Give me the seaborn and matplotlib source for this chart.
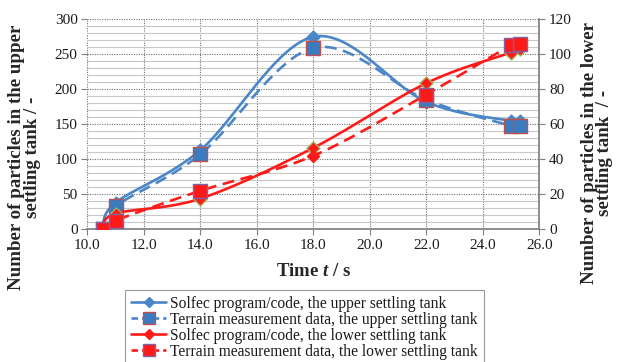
import numpy as np
import pandas as pd
import matplotlib
matplotlib.use("Agg")
import matplotlib.pyplot as plt
import seaborn as sns
from matplotlib.lines import Line2D
from matplotlib.ticker import MultipleLocator, FormatStrFormatter

# ---------------- data ----------------
time = [10.55, 11.0, 14.0, 18.0, 22.0, 25.0, 25.3]
upper_solfec = [0, 38, 113, 275, 182, 155, 155]
upper_meas = [0, 33, 107, 259, 185, 148, 148]
lower_solfec = [0, 9, 17.5, 46.5, 83.5, 101, 103]
lower_meas = [0, 5, 22, 42, 77, 105.3, 106]

labels = [
    "Solfec program/code, the upper settling tank",
    "Terrain measurement data, the upper settling tank",
    "Solfec program/code, the lower settling tank",
    "Terrain measurement data, the lower settling tank",
]

# ---------------- style ----------------
sns.set_theme(style="white")
plt.rcParams["font.family"] = "serif"
plt.rcParams["font.serif"] = ["Liberation Serif"]
plt.rcParams["mathtext.fontset"] = "custom"
plt.rcParams["mathtext.rm"] = "Liberation Serif:bold"
plt.rcParams["mathtext.it"] = "Liberation Serif:italic:bold"
plt.rcParams["mathtext.bf"] = "Liberation Serif:bold"

BLUE = "#4a86c8"
RED = "#ff1a1a"


def smooth(x, y, n=40):
    """Excel-like smoothed line (Catmull-Rom Bezier) for drawing."""
    pts = np.column_stack([x, y]).astype(float)
    out = []
    for i in range(len(pts) - 1):
        p0 = pts[i - 1] if i > 0 else pts[i]
        p1 = pts[i]
        p2 = pts[i + 1]
        p3 = pts[i + 2] if i + 2 < len(pts) else pts[i + 1]
        c1 = p1 + (p2 - p0) / 6.0
        c2 = p2 - (p3 - p1) / 6.0
        t = np.linspace(0, 1, n)[:, None]
        seg = ((1 - t) ** 3) * p1 + 3 * ((1 - t) ** 2) * t * c1 + 3 * (1 - t) * t ** 2 * c2 + t ** 3 * p2
        out.append(seg if i == 0 else seg[1:])
    arr = np.vstack(out)
    return arr[:, 0], arr[:, 1]


fig = plt.figure(figsize=(6.19, 3.62), dpi=100)
ax = fig.add_axes([87.3 / 619, 1 - 229.3 / 362, (539.3 - 87.3) / 619, (229.3 - 19.3) / 362])
ax2 = ax.twinx()

# grid
ax.set_xlim(10, 26)
ax.set_ylim(0, 300)
ax2.set_ylim(0, 120)
ax.xaxis.set_major_locator(MultipleLocator(2))
ax.xaxis.set_major_formatter(FormatStrFormatter("%.1f"))
ax.yaxis.set_major_locator(MultipleLocator(50))
ax.yaxis.set_minor_locator(MultipleLocator(10))
ax2.yaxis.set_major_locator(MultipleLocator(20))
ax.grid(which="minor", axis="y", color="#c8c8c8", linewidth=0.8, linestyle="-")
ax.grid(which="major", axis="both", color="#707070", linewidth=0.8, linestyle=(0, (1, 1.2)))
ax.set_axisbelow(True)

for sp in ["top", "left"]:
    ax.spines[sp].set_visible(False)
    ax2.spines[sp].set_visible(False)
ax.spines["bottom"].set_color("#808080")
ax2.spines["bottom"].set_visible(False)
ax2.spines["right"].set_color("#808080")
ax.spines["right"].set_visible(False)

ax.tick_params(axis="both", which="major", length=4, width=0.8, color="#808080",
               labelsize=11, pad=3, left=True, bottom=True, labelcolor="#1a1a1a")
ax.tick_params(axis="y", which="minor", length=0)
ax2.tick_params(axis="y", length=4, width=0.8, color="#808080", labelsize=11, pad=3, right=True,
                labelcolor="#1a1a1a")

# lines
sx, sy = smooth(time, upper_solfec)
ax.plot(sx, sy, color=BLUE, lw=1.9, zorder=3)
sx, sy = smooth(time, upper_meas)
ax.plot(sx, sy, color=BLUE, lw=1.9, ls=(0, (4.5, 2.5)), zorder=3)
sx, sy = smooth(time, lower_solfec)
ax2.plot(sx, sy, color=RED, lw=1.9, zorder=3)
sx, sy = smooth(time, lower_meas)
ax2.plot(sx, sy, color=RED, lw=1.9, ls=(0, (4.5, 2.5)), zorder=3)

# markers
sns.scatterplot(x=time, y=upper_solfec, ax=ax, marker="D", s=45, color=BLUE,
                edgecolor=BLUE, linewidth=0.8, zorder=4)
sns.scatterplot(x=time, y=upper_meas, ax=ax, marker="s", s=110, color="#3b7bbf",
                edgecolor="#c0504d", linewidth=1.0, zorder=5)
sns.scatterplot(x=time, y=lower_solfec, ax=ax2, marker="D", s=45, color=RED,
                edgecolor="#9bbb59", linewidth=0.9, zorder=4)
sq_idx = [i for i in range(len(time)) if i != 3]
sns.scatterplot(x=[time[i] for i in sq_idx], y=[lower_meas[i] for i in sq_idx], ax=ax2,
                marker="s", s=110, color=RED, edgecolor="#8064a2", linewidth=1.0, zorder=5)
sns.scatterplot(x=[time[3]], y=[lower_meas[3]], ax=ax2, marker="D", s=40, color=RED,
                edgecolor=RED, linewidth=0.8, zorder=5)

ax.set_xlabel("")
ax.set_ylabel("")
ax2.set_ylabel("")

fig.text((87.3 + 539.3) / 2 / 619, 1 - 272 / 362, "Time $t$ / s", ha="center", va="center",
         fontsize=13.5, fontweight="bold")
fig.text(24.5 / 619, 1 - 157 / 362, "Number of particles in the upper\nsettling tank / -",
         rotation=90, ha="center", va="center", multialignment="center",
         fontsize=13.6, fontweight="bold", linespacing=0.9)
fig.text(597 / 619, 1 - 153 / 362, "Number of particles in the lower\nsettling tank  / -",
         rotation=90, ha="center", va="center", multialignment="center",
         fontsize=13.6, fontweight="bold", linespacing=0.9)

handles = [
    Line2D([], [], color=BLUE, lw=1.9, marker="D", markersize=5, markerfacecolor=BLUE, markeredgecolor=BLUE),
    Line2D([], [], color=BLUE, lw=1.9, ls=(0, (2.5, 1.5)), marker="s", markersize=8,
           markerfacecolor="#3b7bbf", markeredgecolor="#c0504d"),
    Line2D([], [], color=RED, lw=1.9, marker="D", markersize=5, markerfacecolor=RED, markeredgecolor=RED),
    Line2D([], [], color=RED, lw=1.9, ls=(0, (2.5, 1.5)), marker="s", markersize=8,
           markerfacecolor=RED, markeredgecolor="#8064a2"),
]
leg = fig.legend(handles, labels, loc="upper left", bbox_to_anchor=(125 / 619, 1 - 289.5 / 362),
                 bbox_transform=fig.transFigure, fontsize=11.2, frameon=True, fancybox=False,
                 edgecolor="#808080", handlelength=2.25, handletextpad=0.25, labelspacing=0.0,
                 borderpad=0.4, borderaxespad=0, numpoints=1)
leg.get_frame().set_linewidth(0.8)
for t in leg.get_texts():
    t.set_color("#1a1a1a")

fig.savefig("out.png", dpi=100)
